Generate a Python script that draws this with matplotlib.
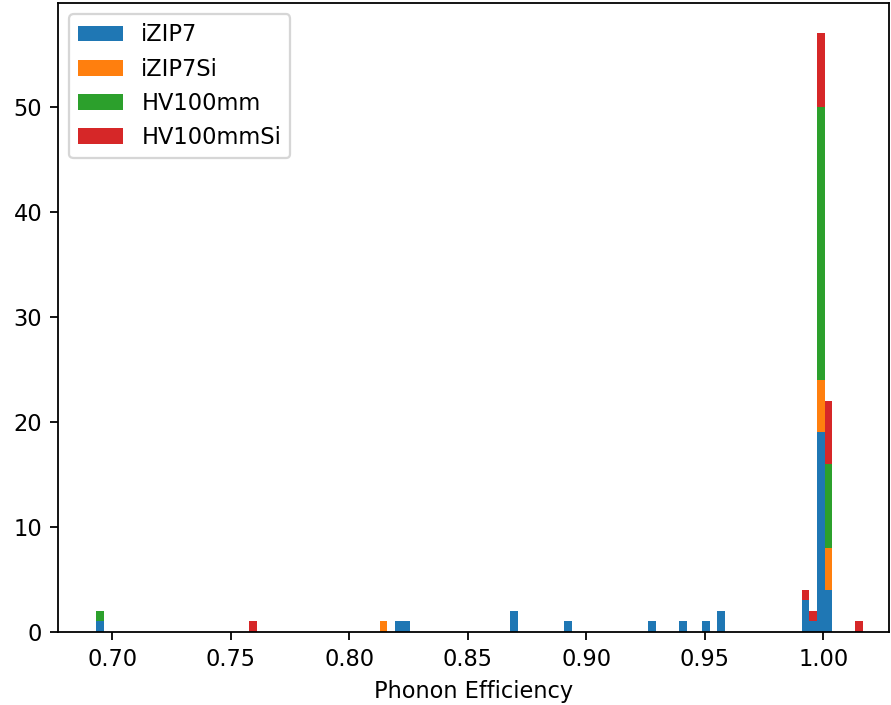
import numpy as np
import matplotlib
matplotlib.use("Agg")
import matplotlib.pyplot as plt

# phonon efficiency per detector, stacked into one histogram
labels = ["iZIP7", "iZIP7Si", "HV100mm", "HV100mmSi"]

izip7_eff = [0.6947, 0.8209, 0.8241, 0.8710, 0.8937, 0.9293, 0.9422,
             0.9519, 0.9584, 0.9940, 0.9972, 1.0005, 1.0037]
izip7_cnt = [1, 1, 1, 2, 1, 1, 1, 1, 2, 3, 1, 19, 4]

izip7si_eff = [0.8144, 1.0005, 1.0037]
izip7si_cnt = [1, 5, 4]

hv100_eff = [0.6947, 1.0005, 1.0037]
hv100_cnt = [1, 26, 8]

hv100si_eff = [0.7595, 0.9940, 0.9972, 1.0005, 1.0037, 1.0151]
hv100si_cnt = [1, 1, 1, 7, 6, 1]

effLo = 0.69312
effHi = 1.01672
nBins = 100


def main():
    dpi = 162
    fig = plt.figure(figsize=(891 / dpi, 705 / dpi), dpi=dpi)
    ax = fig.add_axes([58 / 891, 73 / 705, 831 / 891, 629 / 705])

    bins = np.linspace(effLo, effHi, nBins + 1)
    ax.hist([izip7_eff, izip7si_eff, hv100_eff, hv100si_eff],
            bins=bins,
            weights=[izip7_cnt, izip7si_cnt, hv100_cnt, hv100si_cnt],
            stacked=True, label=labels)

    ax.set_xlim(0.6771, 1.0277)
    ax.set_xlabel("Phonon Efficiency")
    ax.legend(loc="upper left")

    fig.savefig("out.png", dpi=dpi)


if __name__ == "__main__":
    main()
